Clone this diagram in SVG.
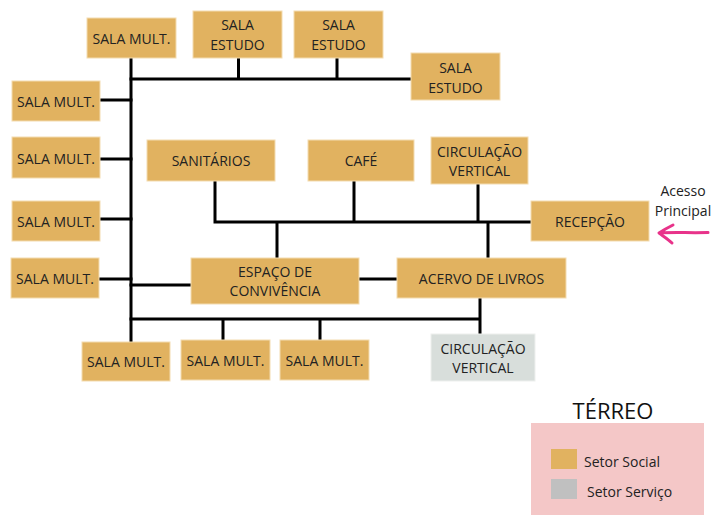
<svg xmlns="http://www.w3.org/2000/svg" width="715" height="517" viewBox="0 0 715 517">
<style>
.n{fill:#e1b260;stroke:#f3dcb0;stroke-width:1}
.s{fill:#d8dedb;stroke:#eef0ee;stroke-width:1}
.t{font-family:"Open Sans","Noto Sans","Liberation Sans",sans-serif;font-size:14px;fill:#222;text-anchor:middle;dominant-baseline:central}
.l{font-family:"Open Sans","Noto Sans","Liberation Sans",sans-serif;font-size:14px;fill:#222}
.c{stroke:#000;stroke-width:3;fill:none;stroke-linecap:square}
</style>
<rect width="715" height="517" fill="#fff"/>
<g id="connectors">
<path class="c" d="M131 58V342"/>
<path class="c" d="M131 79H411M238.5 58V79M337 58V79"/>
<path class="c" d="M100 100H131M100 159H131M100 219H131M99 279H131M131 285H191"/>
<path class="c" d="M215 181V222H531M354 181V222M478 184V222M277 222V258M488 222V258"/>
<path class="c" d="M359 279H397"/>
<path class="c" d="M131 319H480M480 298V334M223 319V340M320 319V340"/>
</g>
<g id="sala-mult-top"><rect class="n" x="87" y="18" width="89" height="40"/><text class="t" x="131.5" y="38">SALA MULT.</text></g>
<g id="sala-estudo-1"><rect class="n" x="193" y="11" width="89" height="47"/><text class="t" x="237.5" y="24">SALA</text><text class="t" x="237.5" y="44">ESTUDO</text></g>
<g id="sala-estudo-2"><rect class="n" x="294" y="11" width="89" height="47"/><text class="t" x="338.5" y="24">SALA</text><text class="t" x="338.5" y="44">ESTUDO</text></g>
<g id="sala-estudo-3"><rect class="n" x="411" y="53" width="89" height="47"/><text class="t" x="455.5" y="67">SALA</text><text class="t" x="455.5" y="87">ESTUDO</text></g>
<g id="sala-mult-l1"><rect class="n" x="12" y="81" width="88" height="40"/><text class="t" x="56" y="101">SALA MULT.</text></g>
<g id="sala-mult-l2"><rect class="n" x="12" y="137" width="88" height="41"/><text class="t" x="56" y="158">SALA MULT.</text></g>
<g id="sala-mult-l3"><rect class="n" x="12" y="201" width="88" height="40"/><text class="t" x="56" y="221">SALA MULT.</text></g>
<g id="sala-mult-l4"><rect class="n" x="11" y="258" width="88" height="40"/><text class="t" x="55" y="278">SALA MULT.</text></g>
<g id="sanitarios"><rect class="n" x="147" y="140" width="128" height="41"/><text class="t" x="211" y="160">SANITÁRIOS</text></g>
<g id="cafe"><rect class="n" x="308" y="140" width="106" height="41"/><text class="t" x="361" y="160">CAFÉ</text></g>
<g id="circulacao-1"><rect class="n" x="431" y="137" width="97" height="47"/><text class="t" x="479.5" y="151">CIRCULAÇÃO</text><text class="t" x="479.5" y="170">VERTICAL</text></g>
<g id="recepcao"><rect class="n" x="531" y="201" width="118" height="40"/><text class="t" x="590" y="221">RECEPÇÃO</text></g>
<g id="espaco"><rect class="n" x="191" y="258" width="168" height="46"/><text class="t" x="275" y="271">ESPAÇO DE</text><text class="t" x="275" y="290">CONVIVÊNCIA</text></g>
<g id="acervo"><rect class="n" x="397" y="258" width="169" height="40"/><text class="t" x="481.5" y="278">ACERVO DE LIVROS</text></g>
<g id="sala-mult-b1"><rect class="n" x="82" y="342" width="88" height="39"/><text class="t" x="126" y="361">SALA MULT.</text></g>
<g id="sala-mult-b2"><rect class="n" x="181" y="340" width="89" height="40"/><text class="t" x="225.5" y="360">SALA MULT.</text></g>
<g id="sala-mult-b3"><rect class="n" x="280" y="340" width="89" height="40"/><text class="t" x="324.5" y="360">SALA MULT.</text></g>
<g id="circulacao-2"><rect class="s" x="431" y="334" width="104" height="47"/><text class="t" x="483" y="348" fill="#333">CIRCULAÇÃO</text><text class="t" x="483" y="367">VERTICAL</text></g>
<g id="acesso">
<text class="t" x="683" y="190">Acesso</text><text class="t" x="683" y="210">Principal</text>
<path d="M708 232.5C690 233 672 232 659 233M673 225C667 228 662 231 659 233C663 236 668 239 672 243" fill="none" stroke="#e8338a" stroke-width="3" stroke-linecap="round" stroke-linejoin="round"/>
</g>
<g id="legend">
<text x="613" y="419" font-family="'Open Sans','Noto Sans','Liberation Sans',sans-serif" font-size="22" fill="#111" text-anchor="middle">TÉRREO</text>
<rect x="531" y="423" width="173" height="92" fill="#f4c7c7"/>
<rect x="551" y="449" width="26" height="20" fill="#e1b260"/>
<rect x="551" y="479" width="26" height="20" fill="#c0c0c0"/>
<text class="l" x="584" y="467">Setor Social</text>
<text class="l" x="587" y="497">Setor Serviço</text>
</g>
</svg>
